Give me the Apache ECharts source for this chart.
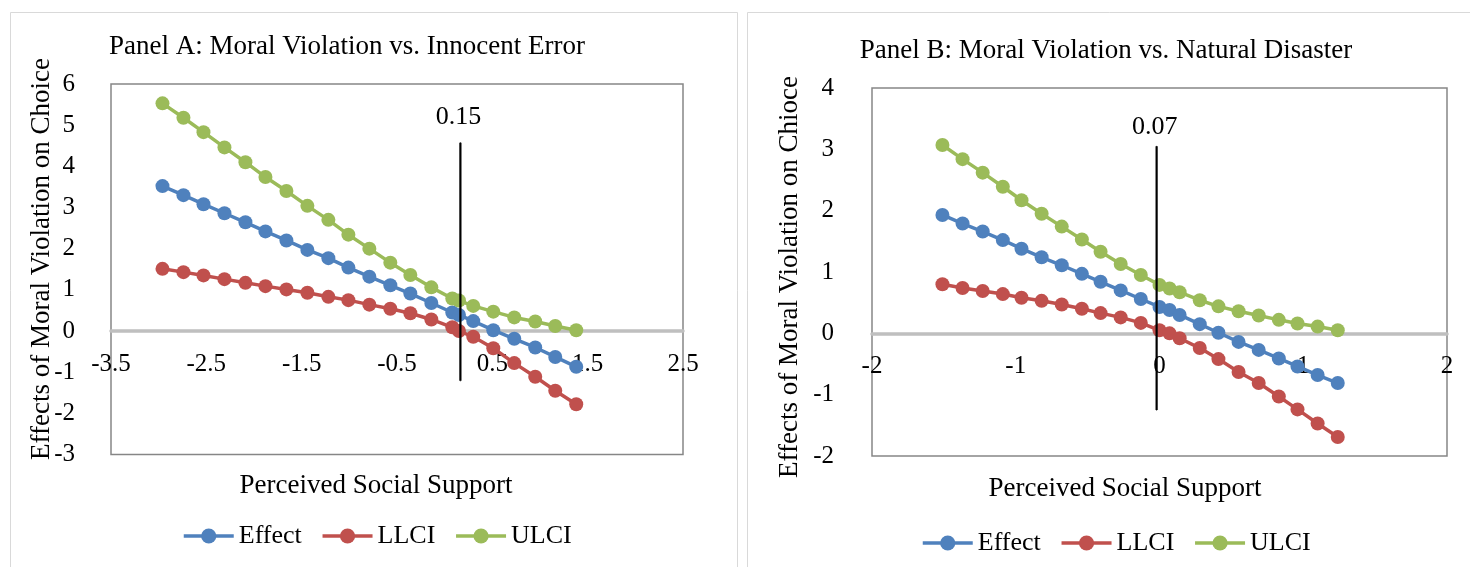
<!DOCTYPE html>
<html>
<head>
<meta charset="utf-8">
<script src="https://cdn.jsdelivr.net/npm/echarts@6/dist/echarts.min.js"></script>
<style>
html,body{margin:0;padding:0;background:#fff;}
#chart{width:1470px;height:567px;}
</style>
</head>
<body>
<div id="chart"></div>
<script>
// ---------- Panel A data ----------
const xA = [-2.96,-2.74,-2.53,-2.31,-2.09,-1.88,-1.66,-1.44,-1.22,-1.01,-0.79,-0.57,-0.36,-0.14,0.08,0.15,0.30,0.51,0.73,0.95,1.16,1.38];
const effectA = [3.52,3.30,3.08,2.86,2.64,2.42,2.20,1.97,1.77,1.54,1.32,1.11,0.91,0.68,0.45,0.39,0.24,0.02,-0.19,-0.40,-0.63,-0.87];
const llciA = [1.51,1.43,1.35,1.26,1.17,1.09,1.01,0.93,0.83,0.75,0.64,0.54,0.43,0.28,0.09,0.00,-0.14,-0.42,-0.78,-1.11,-1.45,-1.78];
const ulciA = [5.53,5.18,4.83,4.46,4.10,3.74,3.40,3.04,2.70,2.34,2.00,1.66,1.36,1.06,0.79,0.74,0.61,0.47,0.33,0.23,0.12,0.02];
const jnLineXA = [0.165,0.165];
const jnLineYA = [4.57,-1.21];
const jnLabelA = '0.15';
const yRangeA = [-3, 6];
const xRangeA = [-3.5, 2.5];

// ---------- Panel B data ----------
const xB = [-1.51,-1.37,-1.23,-1.09,-0.96,-0.82,-0.68,-0.54,-0.41,-0.27,-0.13,0.00,0.07,0.14,0.28,0.41,0.55,0.69,0.83,0.96,1.10,1.24];
const effectB = [1.93,1.79,1.66,1.52,1.38,1.24,1.11,0.97,0.84,0.70,0.56,0.43,0.38,0.30,0.15,0.01,-0.14,-0.27,-0.41,-0.54,-0.68,-0.81];
const llciB = [0.80,0.74,0.69,0.64,0.58,0.53,0.47,0.40,0.33,0.26,0.17,0.05,0.00,-0.08,-0.24,-0.42,-0.63,-0.81,-1.03,-1.24,-1.47,-1.69];
const ulciB = [3.07,2.84,2.62,2.39,2.17,1.95,1.74,1.53,1.33,1.13,0.95,0.79,0.73,0.67,0.54,0.44,0.36,0.29,0.22,0.16,0.11,0.05];
const jnLineXB = [-0.02,-0.02];
const jnLineYB = [3.05,-1.25];
const jnLabelB = '0.07';
const yRangeB = [-2, 4];
const xRangeB = [-2, 2];

const seriesNames = ['Effect','LLCI','ULCI'];
const colors = ['#4f81bd','#c0504d','#9bbb59'];

const titleA = 'Panel A: Moral Violation vs. Innocent Error';
const titleB = 'Panel B: Moral Violation vs. Natural Disaster';
const xTitle = 'Perceived Social Support';
const yTitleA = 'Effects of Moral Violation on Choice';
const yTitleB = 'Effects of Moral Violation on Chioce';

const FONT = '"Liberation Serif","Times New Roman",serif';

const gridA = {left:111, top:84, width:572, height:370.5};
const gridB = {left:872, top:88, width:575, height:368};

function pairs(xs, ys){ return xs.map((x,i)=>[x, ys[i]]); }

function lineSeries(name, xs, ys, idx, color){
  return {
    name: name, type:'line', xAxisIndex: idx, yAxisIndex: idx,
    data: pairs(xs, ys), symbol:'circle', symbolSize: 14,
    lineStyle:{color: color, width: 3.5}, itemStyle:{color: color},
    emphasis:{disabled:true}, animation:false, z: 3
  };
}
function jnSeries(xs, ys, label, idx, dist){
  const d = pairs(xs, ys);
  d[0] = {value: d[0], label:{show:true, formatter: label, position:'top', distance: dist, offset:[-2,0], color:'#000', fontFamily: FONT, fontSize: 26}};
  return {
    name:'JN'+idx, type:'line', xAxisIndex: idx, yAxisIndex: idx, data: d,
    symbol:'circle', symbolSize:1, showSymbol:true, itemStyle:{color:'#000'},
    lineStyle:{color:'#000', width:2.2},
    label:{show:false}, emphasis:{disabled:true}, animation:false, z: 5
  };
}

function fmtA(v){
  const r = Math.round((v - xRangeA[0]) * 1000) / 1000;
  if (Math.abs(r - Math.round(r)) < 1e-6) return String(Math.round(v*10)/10);
  return '';
}
// distance from grid bottom to the y=0 line, so the x axis sits on zero
function zeroOffset(grid, yr){ return -grid.height * (0 - yr[0]) / (yr[1] - yr[0]); }

const chart = echarts.init(document.getElementById('chart'), null, {renderer:'canvas'});

const axisLabelStyle = {color:'#000', fontFamily: FONT, fontSize: 25};
const legendBase = {data: seriesNames, itemWidth:50, itemHeight:19, itemGap:19, selectedMode:false,
  lineStyle:{width:3.5}, textStyle:{color:'#000', fontFamily: FONT, fontSize: 26}};

const option = {
  backgroundColor:'#fff',
  animation:false,
  grid:[
    Object.assign({show:true, borderColor:'#868686', borderWidth:1.5, backgroundColor:'transparent'}, gridA),
    Object.assign({show:true, borderColor:'#868686', borderWidth:1.5, backgroundColor:'transparent'}, gridB)
  ],
  xAxis:[
    {type:'value', gridIndex:0, min:xRangeA[0], max:xRangeA[1], interval:0.5,
     offset: zeroOffset(gridA, yRangeA),
     axisLine:{show:true, onZero:false, lineStyle:{color:'#bfbfbf', width:3.5}},
     axisTick:{show:false}, splitLine:{show:false},
     axisLabel:Object.assign({margin:21, formatter: fmtA, showMinLabel:true, showMaxLabel:true}, axisLabelStyle)},
    {type:'value', gridIndex:1, min:xRangeB[0], max:xRangeB[1], interval:1,
     offset: zeroOffset(gridB, yRangeB),
     axisLine:{show:true, onZero:false, lineStyle:{color:'#bfbfbf', width:3.5}},
     axisTick:{show:false}, splitLine:{show:false},
     axisLabel:Object.assign({margin:21}, axisLabelStyle)}
  ],
  yAxis:[
    {type:'value', gridIndex:0, min:yRangeA[0], max:yRangeA[1], interval:1,
     axisLine:{show:false, onZero:false}, axisTick:{show:false}, splitLine:{show:false},
     axisLabel:Object.assign({margin:36}, axisLabelStyle)},
    {type:'value', gridIndex:1, min:yRangeB[0], max:yRangeB[1], interval:1,
     axisLine:{show:false, onZero:false}, axisTick:{show:false}, splitLine:{show:false},
     axisLabel:Object.assign({margin:38}, axisLabelStyle)}
  ],
  legend:[
    Object.assign({left:177, top:518}, legendBase),
    Object.assign({left:916, top:525}, legendBase)
  ],
  series:[
    lineSeries(seriesNames[0], xA, effectA, 0, colors[0]),
    lineSeries(seriesNames[1], xA, llciA, 0, colors[1]),
    lineSeries(seriesNames[2], xA, ulciA, 0, colors[2]),
    jnSeries(jnLineXA, jnLineYA, jnLabelA, 0, 12),
    lineSeries(seriesNames[0], xB, effectB, 1, colors[0]),
    lineSeries(seriesNames[1], xB, llciB, 1, colors[1]),
    lineSeries(seriesNames[2], xB, ulciB, 1, colors[2]),
    jnSeries(jnLineXB, jnLineYB, jnLabelB, 1, 6)
  ],
  graphic:[
    {type:'rect', shape:{x:10.5, y:12.5, width:727, height:620}, style:{fill:null, stroke:'#d9d9d9', lineWidth:1}, z:-10, silent:true},
    {type:'rect', shape:{x:747.5, y:12.5, width:740, height:620}, style:{fill:null, stroke:'#d9d9d9', lineWidth:1}, z:-10, silent:true},
    {type:'text', x:347, y:47, style:{text:titleA, font:'27px '+FONT, fill:'#000', textAlign:'center', textVerticalAlign:'middle'}},
    {type:'text', x:1106, y:51, style:{text:titleB, font:'27px '+FONT, fill:'#000', textAlign:'center', textVerticalAlign:'middle'}},
    {type:'text', x:376, y:486, style:{text:xTitle, font:'27px '+FONT, fill:'#000', textAlign:'center', textVerticalAlign:'middle'}},
    {type:'text', x:1125, y:489, style:{text:xTitle, font:'27px '+FONT, fill:'#000', textAlign:'center', textVerticalAlign:'middle'}},
    {type:'text', x:42, y:259, rotation:Math.PI/2, style:{text:yTitleA, font:'27px '+FONT, fill:'#000', textAlign:'center', textVerticalAlign:'middle'}},
    {type:'text', x:790, y:277, rotation:Math.PI/2, style:{text:yTitleB, font:'27px '+FONT, fill:'#000', textAlign:'center', textVerticalAlign:'middle'}}
  ]
};
chart.setOption(option);
</script>
</body>
</html>
